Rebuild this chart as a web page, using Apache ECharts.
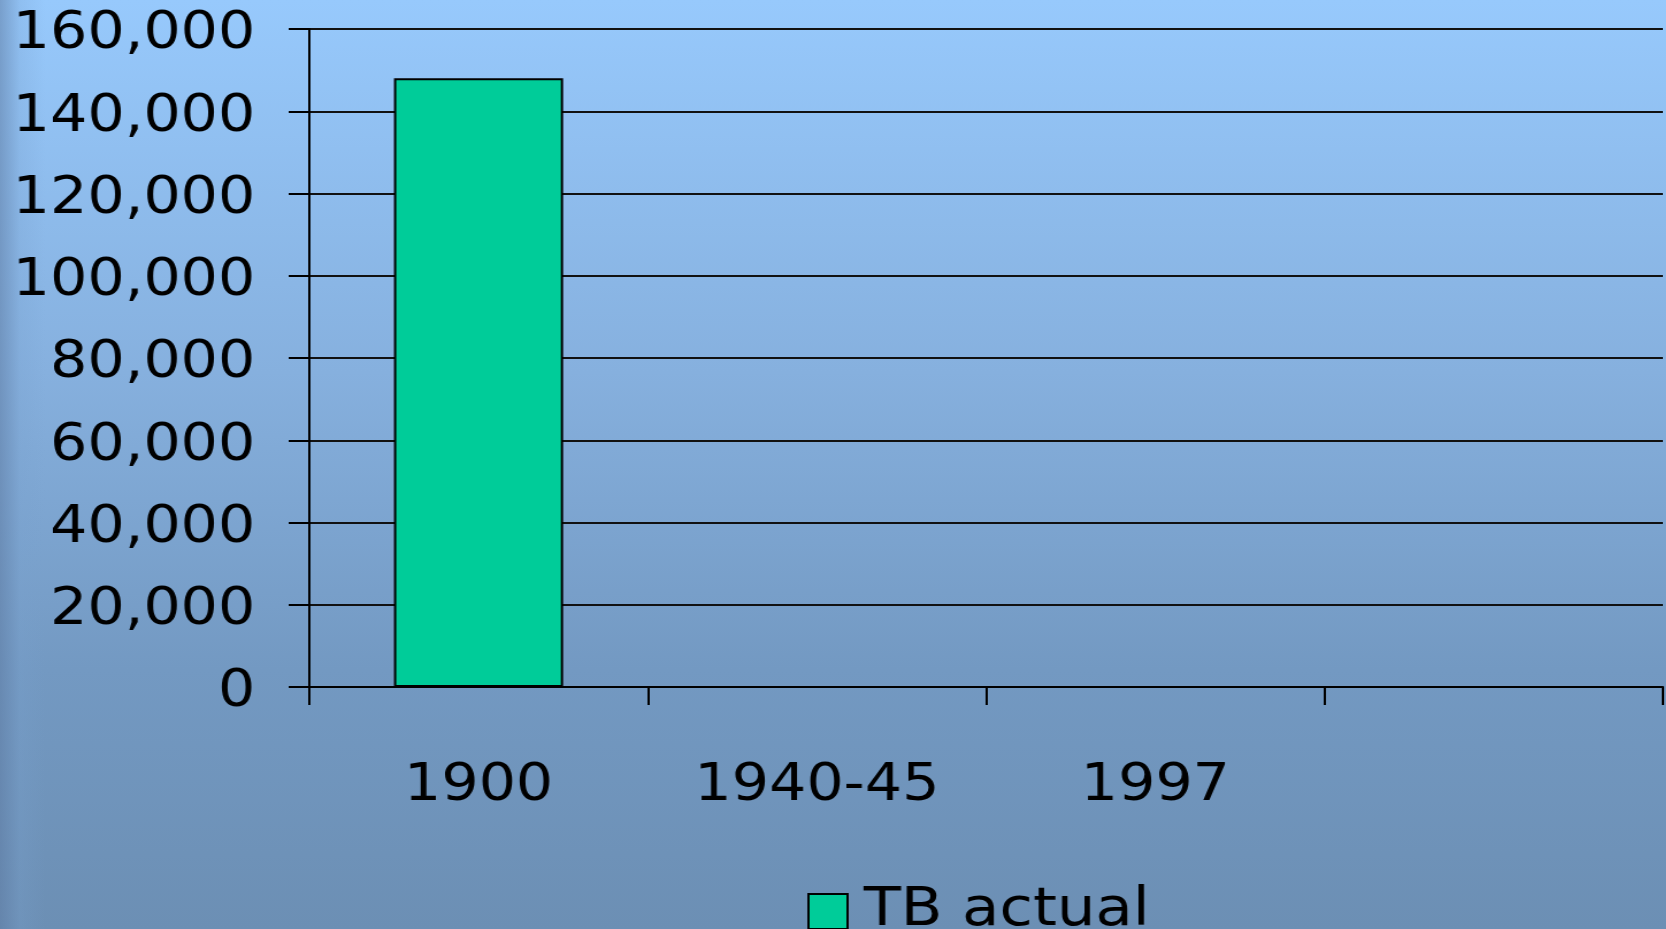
<!DOCTYPE html>
<html>
<head>
<meta charset="utf-8">
<script src="https://cdn.jsdelivr.net/npm/echarts@6/dist/echarts.min.js"></script>
<style>
html,body{margin:0;padding:0;width:1666px;height:929px;overflow:hidden;}
body{
  background:
    linear-gradient(to right, rgba(95,125,165,0.55) 0px, rgba(120,160,205,0.25) 20px, rgba(150,200,250,0) 45px),
    linear-gradient(to bottom, #97c9fc 0%, #86b0de 40%, #7399c2 72%, #6c8fb4 100%);
}
/* the original slide is stretched horizontally, so the chart is drawn narrower and scaled */
#chart{width:1449px;height:929px;transform:scaleX(1.15);transform-origin:0 0;}
</style>
</head>
<body>
<div id="chart"></div>
<script>
// data
var categories = ['1900', '1940-45', '1997', ''];
var tbActual = [148000, null, null, null];
var seriesName = 'TB actual';
var yTicks = [0, 20000, 40000, 60000, 80000, 100000, 120000, 140000, 160000];

var fontFam = '"DejaVu Sans", Verdana, sans-serif';

var myChart = echarts.init(document.getElementById('chart'));
var option = {
  backgroundColor: 'transparent',
  animation: false,
  grid: {left: 269, right: 3, top: 29, bottom: 242},
  legend: {
    data: [seriesName],
    left: 702,
    top: 885,
    itemWidth: 34,
    itemHeight: 35,
    itemGap: 20,
    textStyle: {fontFamily: fontFam, fontSize: 53, color: '#000', lineHeight: 52, padding: [0, 0, 0, 9]},
    icon: 'rect',
    padding: 0
  },
  xAxis: {
    type: 'category',
    data: categories,
    boundaryGap: true,
    axisLine: {lineStyle: {color: '#000', width: 2}},
    axisTick: {show: true, length: 18, interval: 0, lineStyle: {color: '#000', width: 2}},
    axisLabel: {interval: 0, margin: 74, fontFamily: fontFam, fontSize: 51, color: '#000'}
  },
  yAxis: {
    type: 'value',
    min: yTicks[0],
    max: yTicks[yTicks.length - 1],
    interval: yTicks[1] - yTicks[0],
    axisLine: {show: true, lineStyle: {color: '#000', width: 2}},
    axisTick: {show: true, length: 18, lineStyle: {color: '#000', width: 2}},
    splitLine: {show: true, lineStyle: {color: '#111', width: 2}},
    axisLabel: {
      margin: 47,
      fontFamily: fontFam,
      fontSize: 51,
      color: '#000',
      formatter: function (v) { return '{n|' + v.toLocaleString('en-US') + '}'; },
      rich: {
        n: {fontFamily: fontFam, fontSize: 51, color: '#000', padding: [12, 0, 0, 0]}
      }
    }
  },
  series: [{
    name: seriesName,
    type: 'bar',
    data: tbActual,
    barWidth: '50%',
    itemStyle: {color: '#00cc99', borderColor: '#000', borderWidth: 2}
  }]
};
myChart.setOption(option);
</script>
</body>
</html>
